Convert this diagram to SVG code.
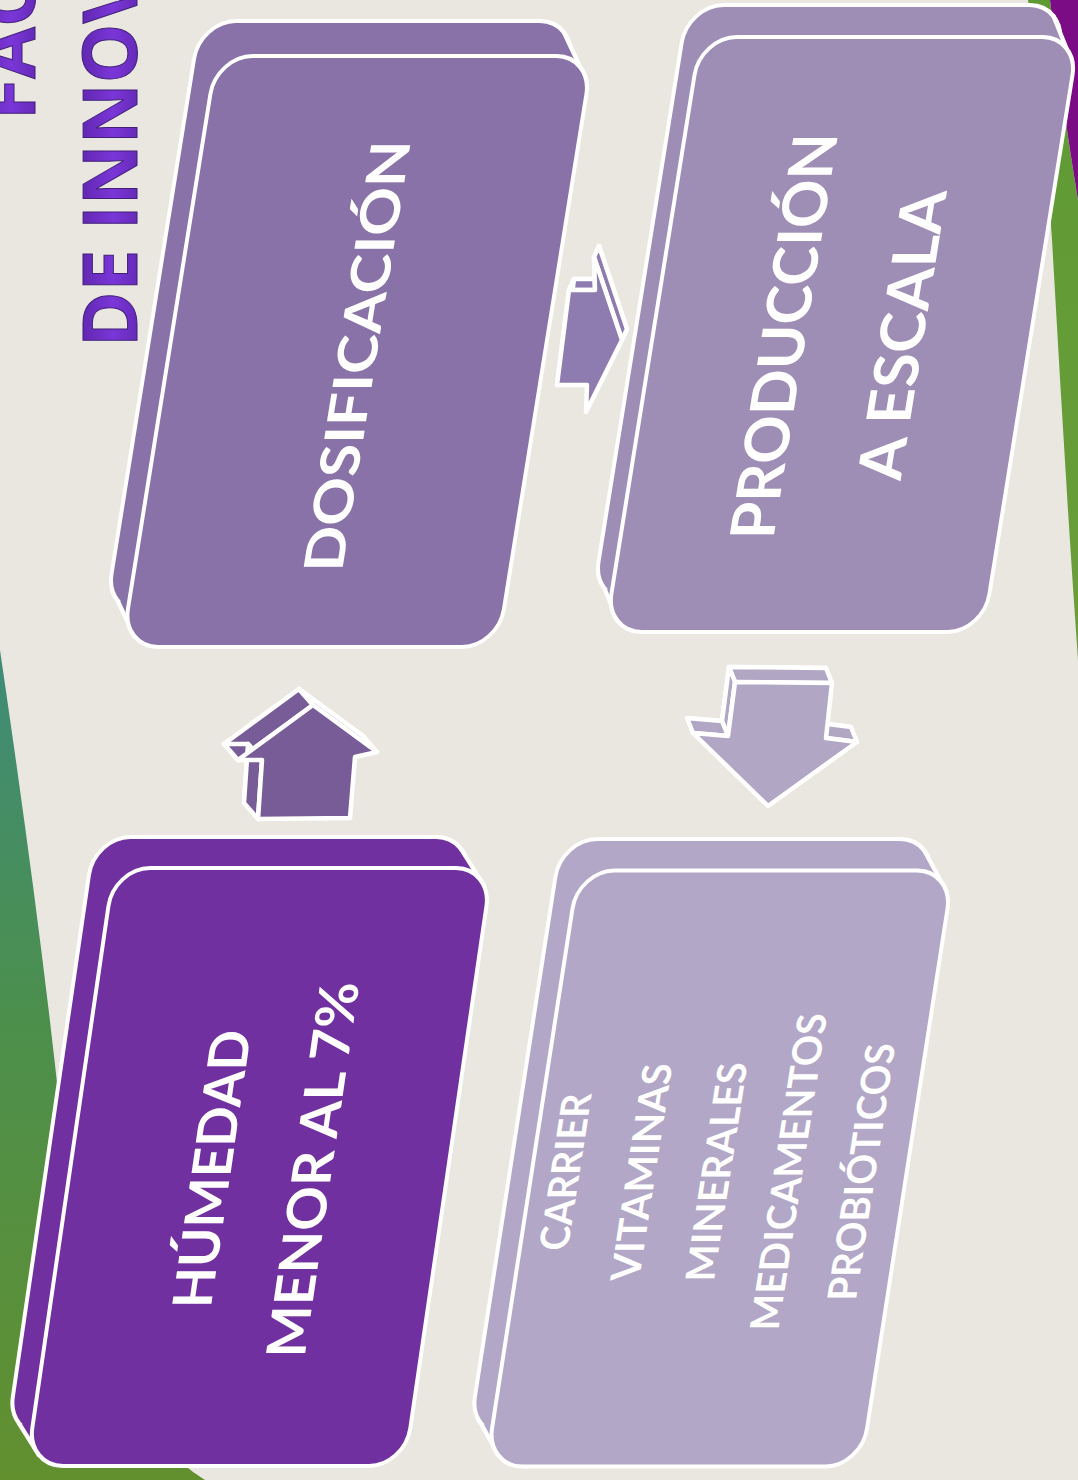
<svg xmlns="http://www.w3.org/2000/svg" width="1078" height="1480" viewBox="0 0 1078 1480">
<defs>
  <linearGradient id="gLeft" x1="0" y1="0" x2="0" y2="1">
    <stop offset="0" stop-color="#3F8C78"/>
    <stop offset="0.45" stop-color="#4C8F4C"/>
    <stop offset="1" stop-color="#62902F"/>
  </linearGradient>
  <linearGradient id="gRight" x1="0" y1="0" x2="0" y2="1">
    <stop offset="0" stop-color="#5E9A33"/>
    <stop offset="1" stop-color="#6A9E3A"/>
  </linearGradient>
  <linearGradient id="gTitle" x1="0" y1="0" x2="0" y2="1">
    <stop offset="0" stop-color="#4E1B92"/>
    <stop offset="0.55" stop-color="#7A36D8"/>
    <stop offset="1" stop-color="#54209C"/>
  </linearGradient>
  <style>
    .box{stroke:#fff;stroke-width:4;stroke-linejoin:round}
    .side{stroke:none}
    .edge{stroke:#fff;stroke-width:4;stroke-linecap:round;fill:none}
    .lbl{font-family:Lato,"Open Sans","Liberation Sans",sans-serif;font-weight:700;fill:#fff;text-anchor:middle}
    .title{font-family:"Open Sans","Liberation Sans",sans-serif;font-weight:700;font-size:75px;fill:url(#gTitle);stroke:#42207A;stroke-width:1}
    .arr{stroke:#fff;stroke-width:4.5;stroke-linejoin:round}
  </style>
</defs>

<!-- background -->
<rect x="0" y="0" width="1078" height="1480" fill="#EAE7E0"/>
<path d="M0,650 C22,800 44,960 60,1110 C75,1280 110,1420 205,1480 L0,1480 Z" fill="url(#gLeft)"/>
<path d="M1028,0 L1050,0 C1058,70 1068,140 1078,200 L1078,660 C1068,520 1060,380 1052,240 C1046,150 1038,70 1028,0 Z" fill="url(#gRight)"/>
<path d="M1050,0 L1078,0 L1078,200 C1068,140 1058,70 1050,0 Z" fill="#7C0C86"/>

<!-- title -->
<g id="title">
  <text class="title" transform="translate(35,120) rotate(-90)">FAC</text>
  <text class="title" transform="translate(137,347) rotate(-90)">DE INNOV</text>
</g>

<!-- node 1 -->
<g id="node-humedad" transform="translate(114,868) skewX(-8.3)" fill="#7030A0">
  <rect class="box" x="-24" y="-31" width="378" height="598" rx="36" ry="38"/>
  <polygon class="side" points="343.5,-20 367.5,11 378,299 354,299"/>
  <polygon class="side" points="-13.5,556 10.5,587 189,598 165,567"/>
  <line class="edge" x1="343.5" y1="-20" x2="367.5" y2="11"/>
  <line class="edge" x1="-13.5" y1="556" x2="10.5" y2="587"/>
  <rect class="box" x="0" y="0" width="378" height="598" rx="36" ry="38"/>
  <text class="lbl" font-size="54" transform="translate(161,301) rotate(-90)" textLength="278" lengthAdjust="spacingAndGlyphs">HÚMEDAD</text>
  <text class="lbl" font-size="54" transform="translate(262,302) rotate(-90)" textLength="375" lengthAdjust="spacingAndGlyphs">MENOR AL 7%</text>
</g>

<!-- node 2 -->
<g id="node-dosificacion" transform="translate(216.5,56) skewX(-9.1)" fill="#8872A7">
  <rect class="box" x="-22" y="-35" width="376" height="591" rx="36" ry="38"/>
  <polygon class="side" points="343.5,-23.9 365.5,11.1 376,295 354,295"/>
  <polygon class="side" points="-11.5,544.9 10.5,579.9 188,591 166,556"/>
  <line class="edge" x1="343.5" y1="-23.9" x2="365.5" y2="11.1"/>
  <line class="edge" x1="-11.5" y1="544.9" x2="10.5" y2="579.9"/>
  <rect class="box" x="0" y="0" width="376" height="591" rx="36" ry="38"/>
  <text class="lbl" font-size="54" transform="translate(208,300) rotate(-90)" textLength="431" lengthAdjust="spacingAndGlyphs">DOSIFICACIÓN</text>
</g>

<!-- node 3 -->
<g id="node-produccion" transform="translate(700.6,37) skewX(-9.1)" fill="#9E8DB5">
  <rect class="box" x="-18" y="-32" width="378" height="595" rx="36" ry="38"/>
  <polygon class="side" points="349.5,-20.9 367.5,11.1 378,297 360,297"/>
  <polygon class="side" points="-7.5,551.9 10.5,583.9 189,595 171,563"/>
  <line class="edge" x1="349.5" y1="-20.9" x2="367.5" y2="11.1"/>
  <line class="edge" x1="-7.5" y1="551.9" x2="10.5" y2="583.9"/>
  <rect class="box" x="0" y="0" width="378" height="595" rx="36" ry="38"/>
  <text class="lbl" font-size="61" transform="translate(153,299) rotate(-90)" textLength="406" lengthAdjust="spacingAndGlyphs">PRODUCCIÓN</text>
  <text class="lbl" font-size="61" transform="translate(271,299) rotate(-90)" textLength="290" lengthAdjust="spacingAndGlyphs">A ESCALA</text>
</g>

<!-- node 4 -->
<g id="node-carrier" transform="translate(578.4,870.5) skewX(-8.8)" fill="#B2A7C6">
  <rect class="box" x="-22" y="-31.5" width="375" height="596" rx="36" ry="38"/>
  <polygon class="side" points="342.5,-20.4 364.5,11.1 375,298 353,298"/>
  <polygon class="side" points="-11.5,553.4 10.5,584.9 187.5,596 165.5,564.5"/>
  <line class="edge" x1="342.5" y1="-20.4" x2="364.5" y2="11.1"/>
  <line class="edge" x1="-11.5" y1="553.4" x2="10.5" y2="584.9"/>
  <rect class="box" x="0" y="0" width="375" height="596" rx="36" ry="38"/>
  <text class="lbl" font-size="40" transform="translate(48,301.5) rotate(-90)" textLength="157" lengthAdjust="spacingAndGlyphs">CARRIER</text>
  <text class="lbl" font-size="40" transform="translate(124,301.5) rotate(-90)" textLength="217" lengthAdjust="spacingAndGlyphs">VITAMINAS</text>
  <text class="lbl" font-size="40" transform="translate(199,301.5) rotate(-90)" textLength="219" lengthAdjust="spacingAndGlyphs">MINERALES</text>
  <text class="lbl" font-size="40" transform="translate(271,301.5) rotate(-90)" textLength="317" lengthAdjust="spacingAndGlyphs">MEDICAMENTOS</text>
  <text class="lbl" font-size="40" transform="translate(344,301.5) rotate(-90)" textLength="257" lengthAdjust="spacingAndGlyphs">PROBIÓTICOS</text>
</g>

<!-- connectors -->
<g id="connectors">
  <g id="arrow-up" class="arr" fill="#785C98">
    <polygon points="299,689 363,736 341,741 336,802 244,803 248,744 224,744"/>
    <polygon points="238,760 313,705 299,689 224,744"/>
    <polygon points="313,705 377,752 363,736 299,689"/>
    <polygon points="262,760 238,760 224,744 248,744"/>
    <polygon points="258,819 262,760 248,744 244,803"/>
    <polygon points="313,705 377,752 355,757 350,818 258,819 262,760 238,760"/>
  </g>
  <g id="arrow-right" class="arr" fill="#8E7BB0">
    <polygon points="574,279 600,279 599,246 627,329 591,401 592,374 562,374"/>
    <polygon points="569,290 595,290 600,279 574,279"/>
    <polygon points="595,290 594,257 599,246 600,279"/>
    <polygon points="594,257 622,340 627,329 599,246"/>
    <polygon points="557,385 569,290 574,279 562,374"/>
    <polygon points="569,290 595,290 594,257 622,340 586,412 587,385 557,385"/>
  </g>
  <g id="arrow-down" class="arr" fill="#B1A7C5">
    <polygon points="729,667 826,668 820,723 851,727 762,791 687,718 722,721"/>
    <polygon points="735,682 832,683 826,668 729,667"/>
    <polygon points="728,736 735,682 729,667 722,721"/>
    <polygon points="693,733 728,736 722,721 687,718"/>
    <polygon points="857,742 826,738 820,723 851,727"/>
    <polygon points="735,682 832,683 826,738 857,742 768,806 693,733 728,736"/>
  </g>
</g>
</svg>
